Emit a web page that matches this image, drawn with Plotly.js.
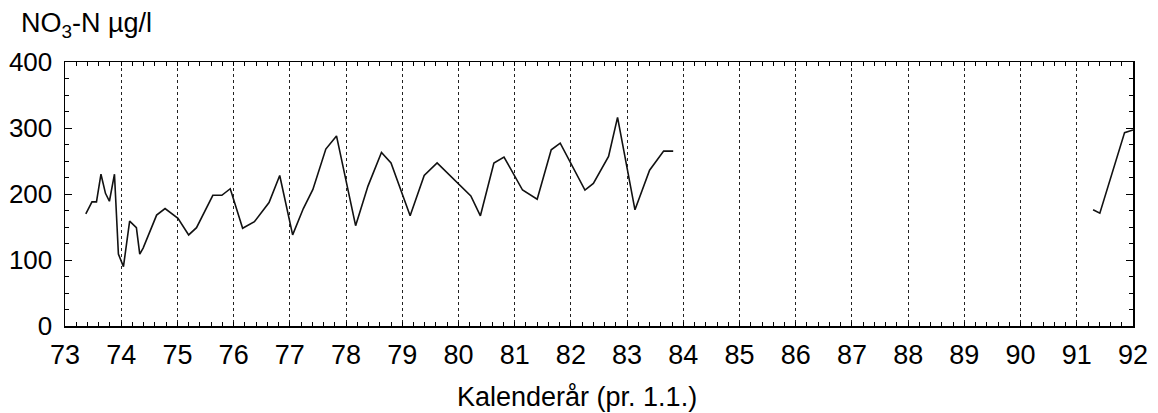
<!DOCTYPE html>
<html>
<head>
<meta charset="utf-8">
<script src="https://cdn.plot.ly/plotly-3.0.1.min.js"></script>
<style>html,body{margin:0;padding:0;background:#fff;}#chart{width:1158px;height:413px;}</style>
</head>
<body>
<div id="chart"></div>
<script>
// Year (decimal, 73 = 1973) and NO3-N concentration (µg/l); null breaks the line
const years = [73.37, 73.48, 73.56, 73.64, 73.72, 73.79, 73.88, 73.95, 74.04, 74.15, 74.27, 74.33, 74.39, 74.63, 74.78,
  75.01, 75.20, 75.34, 75.63, 75.79, 75.94, 76.16, 76.37, 76.63, 76.82, 77.05, 77.24, 77.41, 77.64, 77.83,
  78.17, 78.39, 78.63, 78.80, 79.14, 79.39, 79.62, 80.22, 80.39, 80.63, 80.81, 81.14, 81.40, 81.65, 81.81,
  82.25, 82.40, 82.67, 82.83, 83.14, 83.40, 83.65, 83.82,
  null,
  91.29, 91.41, 91.85, 92.0];
const no3n = [170, 188, 188, 230, 201, 189, 230, 109, 90, 159, 149, 109, 118, 168, 178,
  163, 138, 149, 198, 198, 208, 148, 158, 187, 228, 138, 178, 207, 268, 288,
  152, 212, 263, 247, 167, 228, 247, 197, 167, 247, 256, 206, 192, 267, 277,
  206, 216, 257, 316, 176, 236, 265, 265,
  null,
  176, 171, 293, 297];
const xTickVals = [73, 74, 75, 76, 77, 78, 79, 80, 81, 82, 83, 84, 85, 86, 87, 88, 89, 90, 91, 92];
const xTickText = ["73", "74", "75", "76", "77", "78", "79", "80", "81", "82", "83", "84", "85", "86", "87", "88", "89", "90", "91", "92"];
const yTickVals = [0, 100, 200, 300, 400];

const font = "Liberation Sans, Arial, Helvetica, sans-serif";

Plotly.newPlot('chart', [{
  x: years, y: no3n, type: 'scatter', mode: 'lines',
  line: {color: '#111', width: 1.6}, connectgaps: false, hoverinfo: 'none'
}], {
  width: 1158, height: 413,
  margin: {l: 65, r: 25, t: 62, b: 87},
  paper_bgcolor: '#fff', plot_bgcolor: '#fff',
  showlegend: false,
  font: {family: font, color: '#000'},
  xaxis: {
    range: [73, 92], tickvals: xTickVals, ticktext: xTickText,
    showgrid: true, gridcolor: '#222', griddash: 'dot', gridwidth: 1,
    zeroline: false, showline: true, linecolor: '#000', linewidth: 1.5, mirror: 'allticks',
    ticks: 'inside', ticklen: 0, tickcolor: '#000', ticklabelstandoff: 4,
    minor: {dtick: 0.2, tick0: 73, ticks: 'inside', ticklen: 4, tickcolor: '#000', showgrid: false},
    tickfont: {size: 27, family: font, color: '#000'}
  },
  yaxis: {
    range: [0, 400], tickvals: yTickVals,
    showgrid: false, zeroline: false, showline: true, linecolor: '#000', linewidth: 1.5, mirror: 'allticks',
    ticks: 'inside', ticklen: 7, tickcolor: '#000', ticklabelstandoff: 6,
    minor: {dtick: 25, tick0: 0, ticks: 'inside', ticklen: 4, tickcolor: '#000', showgrid: false},
    tickfont: {size: 26, family: font, color: '#000'}
  },
  annotations: [{
    text: 'NO<sub>3</sub>-N µg/l', xref: 'paper', yref: 'paper',
    x: -0.043, y: 1.14, xanchor: 'left', yanchor: 'middle', showarrow: false,
    font: {size: 27, family: font, color: '#000'}
  }, {
    text: 'Kalenderår (pr. 1.1.)', xref: 'paper', yref: 'paper',
    x: 0.479, y: -0.27, xanchor: 'center', yanchor: 'middle', showarrow: false,
    font: {size: 27, family: font, color: '#000'}
  }]
}, {staticPlot: true, displayModeBar: false});
</script>
</body>
</html>
